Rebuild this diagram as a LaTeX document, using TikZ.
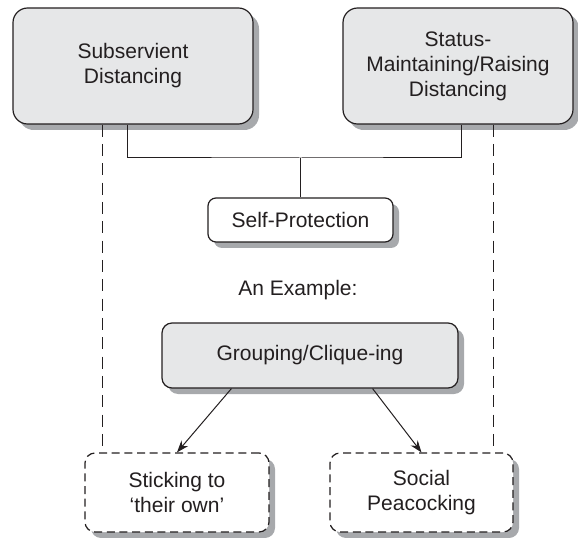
\documentclass[tikz,border=0pt]{standalone}
\usepackage{fontspec}
\setmainfont{Liberation Sans}
\usepackage{tikz}
\usetikzlibrary{shadows,arrows.meta}

\definecolor{boxgray}{HTML}{E6E7E8}
\definecolor{shadegray}{HTML}{A7A9AC}
\definecolor{inkblack}{HTML}{231F20}

\tikzset{
  every node/.style={font=\fontsize{15.75}{18.75}\selectfont,text=inkblack},
  shade box/.style={drop shadow={shadow xshift=4.5pt,shadow yshift=-4.5pt,fill=shadegray,opacity=1}},
  grey box/.style={draw=inkblack,line width=0.9pt,fill=boxgray,shade box,align=center,inner sep=0pt},
  white box/.style={draw=inkblack,line width=0.9pt,fill=white,shade box,align=center,inner sep=0pt},
  dash box/.style={white box,dash pattern=on 6pt off 3.5pt},
  link/.style={draw=inkblack,line width=0.75pt},
  dash link/.style={link,line width=0.8pt,dash pattern=on 9pt off 5.5pt},
  arrow link/.style={link,-{Stealth[length=9pt,width=6.5pt]}},
}

\begin{document}
\begin{tikzpicture}[x=0.75pt,y=0.75pt,yscale=-1,xscale=1]
    \path[use as bounding box] (0,0) rectangle (578,538);

    %Shape: Rounded Rect [id:sub]
    \node[grey box,rounded corners=11pt,minimum width=180pt,minimum height=87pt] (sub) at (133,66) {Subservient\\Distancing};
    %Shape: Rounded Rect [id:stat]
    \node[grey box,rounded corners=11pt,minimum width=172.5pt,minimum height=87pt] (stat) at (458,66) {Status-\\Maintaining/Raising\\Distancing};
    %Shape: Rounded Rect [id:self]
    \node[white box,rounded corners=6pt,minimum width=138.75pt,minimum height=33pt] (self) at (300.5,220) {Self-Protection};
    % Text Node
    \node (example) at (298,290) {An Example:};
    %Shape: Rounded Rect [id:group]
    \node[grey box,rounded corners=7.5pt,minimum width=222pt,minimum height=48.75pt] (group) at (310,355.5) {Grouping/Clique-ing};
    %Shape: Rounded Rect [id:stick]
    \node[dash box,rounded corners=7.5pt,minimum width=138pt,minimum height=59.25pt] (stick) at (177,492.5) {Sticking to\\‘their own’};
    %Shape: Rounded Rect [id:social]
    \node[dash box,rounded corners=7.5pt,minimum width=137.25pt,minimum height=59.25pt] (social) at (421.5,492.5) {Social\\Peacocking};

    %Straight Lines [id:join]
    \coordinate (subleg) at ([xshift=86.25pt]sub.south west);
    \coordinate (statleg) at ([xshift=89.25pt]stat.south west);
    \coordinate (joint) at (300.5,158);
    \draw[link] (subleg) |- (joint) -| (statleg);
    \draw[link] (joint) -- (self.north);

    %Straight Lines [id:dashed]
    \coordinate (subdash) at ([xshift=67.5pt]sub.south west);
    \draw[dash link] (subdash) -- (subdash |- stick.north);
    \coordinate (statdash) at ([xshift=-60pt]stat.south east);
    \draw[dash link] (statdash) -- (statdash |- social.north);

    %Straight Lines [id:arrows]
    \draw[arrow link] ([xshift=52.5pt]group.south west) -- (stick.north);
    \draw[arrow link] ([xshift=-64.5pt]group.south east) -- (social.north);

\end{tikzpicture}
\end{document}
